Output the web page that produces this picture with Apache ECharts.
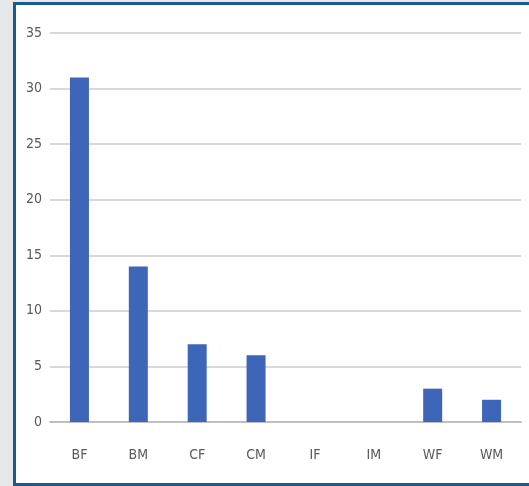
<!DOCTYPE html>
<html>
<head>
<meta charset="utf-8">
<script src="https://cdn.jsdelivr.net/npm/echarts@6/dist/echarts.min.js"></script>
<style>
html,body{margin:0;padding:0;background:#e7e8e9;width:529px;height:486px;overflow:hidden;}
#frame{position:absolute;left:13px;top:2px;width:516px;height:484px;background:#fff;
  border-left:3px solid #1b5a8c;border-top:3px solid #1b5a8c;border-bottom:3px solid #1b5a8c;box-sizing:border-box;}
#chart{position:absolute;left:0;top:0;width:529px;height:486px;}
</style>
</head>
<body>
<div id="frame"></div>
<div id="chart"></div>
<script>
// 类别与数值
var categories = ['BF','BM','CF','CM','IF','IM','WF','WM'];
var counts = [31,14,7,6,0,0,3,2];

var labelFont = '"Liberation Sans Narrow","DejaVu Sans Condensed",sans-serif';
var myChart = echarts.init(document.getElementById('chart'));
var option = {
	animation:false,
	grid:{left:50,right:8,top:33,bottom:64},
	xAxis:{
		type:'category',
		data:categories,
		axisLine:{lineStyle:{color:'#bfbfbf',width:2}},
		axisTick:{show:false},
		axisLabel:{color:'#595959',fontSize:14,fontFamily:labelFont,margin:26}
	},
	yAxis:{
		type:'value',
		min:0,max:35,interval:5,
		axisLine:{show:false},
		axisTick:{show:false},
		splitLine:{lineStyle:{color:'#d9d9d9',width:2}},
		axisLabel:{color:'#595959',fontSize:14,fontFamily:labelFont,margin:8}
	},
	series:[{
		type:'bar',
		data:counts,
		barWidth:19,
		itemStyle:{color:'#3d66b8'}
	}]
};
myChart.setOption(option);
</script>
</body>
</html>
